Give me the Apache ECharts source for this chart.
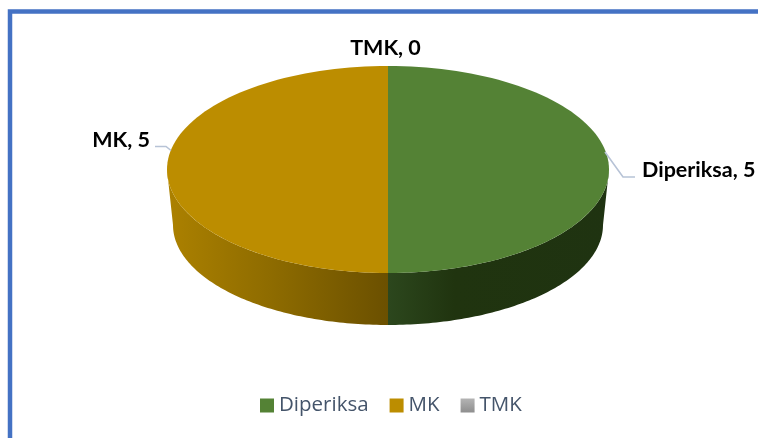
<!DOCTYPE html>
<html>
<head>
<meta charset="utf-8">
<style>html,body{margin:0;padding:0;background:#fff}#c{width:758px;height:438px}</style>
<script src="https://cdn.jsdelivr.net/npm/echarts@6/dist/echarts.min.js"></script>
</head>
<body>
<div id="c"></div>
<script>
var categories = ['Diperiksa', 'MK', 'TMK'];
var values = [5, 5, 0];

var total = values.reduce(function (a, b) { return a + b; }, 0);

var topEllipse = { cx: 388, cy: 169.5, rx: 221, ry: 103.5 };
var baseEllipse = { cx: 388, cy: 225, rx: 215, ry: 100 };
var STEPS = 90;

function ell(e, t) { return [e.cx + e.rx * Math.sin(t), e.cy - e.ry * Math.cos(t)]; }
function startAngle(i) {
  var s = 0;
  for (var k = 0; k < i; k++) s += values[k];
  return s / total * Math.PI * 2;
}
function arc(e, a0, a1) {
  var pts = [];
  for (var k = 0; k <= STEPS; k++) pts.push(ell(e, a0 + (a1 - a0) * k / STEPS));
  return pts;
}
function linear(stops) {
  return new echarts.graphic.LinearGradient(0, 0, 1, 0, stops.map(function (s) { return { offset: s[0], color: s[1] }; }));
}
var wallFills = [
  function () { return linear([[0, '#2C471D'], [0.3, '#20340F'], [1, '#1F3311']]); },
  function () { return linear([[0, '#AC8100'], [0.5, '#8C6A00'], [1, '#6B5000']]); },
  function () { return '#888888'; }
];
var swatchGray = new echarts.graphic.LinearGradient(0, 0, 0, 1, [
  { offset: 0, color: '#B4B4B4' }, { offset: 1, color: '#8E8E8E' }
]);
var seriesColors = ['#548235', '#BC8D00', swatchGray];

// label placement relative to the centre of the top ellipse
var labelLayout = [
  { dx: 254, dy: 1, align: 'left', leader: [[217, -17.5], [235, 7.5], [247, 7.5]] },
  { dx: -238, dy: -29, align: 'right', leader: [[-217, -19], [-222, -23], [-233, -23]] },
  { dx: -2.5, dy: -121, align: 'center', leader: null }
];

function renderItem(params, api) {
  var i = params.seriesIndex;
  var v = api.value(0);
  var a0 = startAngle(i);
  var a1 = a0 + v / total * Math.PI * 2;
  var children = [];
  if (v > 0) {
    var w0 = Math.max(a0, Math.PI / 2), w1 = Math.min(a1, Math.PI * 1.5);
    if (w1 > w0) {
      var wall = arc(topEllipse, w0, w1).concat(arc(baseEllipse, w0, w1).reverse());
      children.push({ type: 'polygon', shape: { points: wall }, style: { fill: wallFills[i]() } });
    }
    var top = [[topEllipse.cx, topEllipse.cy]].concat(arc(topEllipse, a0, a1));
    children.push({ type: 'polygon', shape: { points: top }, style: { fill: seriesColors[i] } });
  }
  var lay = labelLayout[i];
  var cx = topEllipse.cx, cy = topEllipse.cy;
  if (lay.leader) {
    children.push({
      type: 'polyline',
      shape: { points: lay.leader.map(function (p) { return [cx + p[0], cy + p[1]]; }), smooth: 0 },
      style: { stroke: '#B7C3D6', lineWidth: 1.6, fill: 'none' }
    });
  }
  children.push({
    type: 'text',
    style: {
      text: categories[i] + ', ' + v,
      x: cx + lay.dx, y: cy + lay.dy,
      textAlign: lay.align, textVerticalAlign: 'middle',
      fontFamily: 'Lato', fontWeight: 'bold', fontSize: 21.5, fill: '#000000'
    }
  });
  return { type: 'group', children: children };
}

var chart = echarts.init(document.getElementById('c'), null, { renderer: 'canvas' });
chart.setOption({
  animation: false,
  backgroundColor: '#ffffff',
  legend: {
    data: categories,
    left: 260, top: 395,
    padding: 0,
    icon: 'rect',
    itemWidth: 14, itemHeight: 14, itemGap: 21,
    textStyle: { fontFamily: 'Open Sans', fontSize: 20.5, color: '#44546A' },
    selectedMode: false
  },
  graphic: [{
    type: 'polyline',
    shape: { points: [[10, 438], [10, 11.5], [758, 11.5]] },
    style: { stroke: '#4472C4', lineWidth: 4.5, fill: 'none' },
    silent: true
  }],
  series: categories.map(function (name, i) {
    return {
      type: 'custom',
      name: name,
      coordinateSystem: 'none',
      renderItem: renderItem,
      itemStyle: { color: seriesColors[i] },
      data: [[values[i]]],
      silent: true
    };
  })
});
</script>
</body>
</html>
